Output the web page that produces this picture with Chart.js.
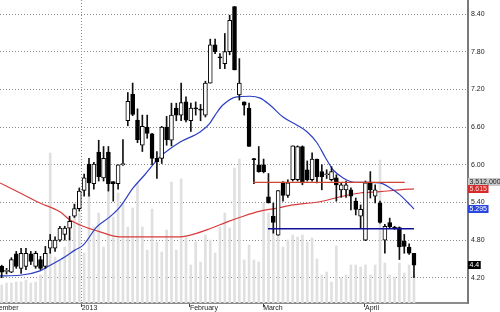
<!DOCTYPE html>
<html>
<head>
<meta charset="utf-8">
<script src="https://cdn.jsdelivr.net/npm/chart.js@4.4.1/dist/chart.umd.min.js"></script>
<style>
  html, body { margin: 0; padding: 0; background: #fff; }
  #chart { display: block; }
</style>
</head>
<body>
<canvas id="chart" width="500" height="312"></canvas>
<script>
/* ─── Data (one entry per trading day) ───────────────────────────────────── */
const opens = [
  4.38,4.30,4.29,4.58,4.35,4.38,4.58,4.38,4.49,4.38, 4.67,4.67,4.80,4.89,4.99,5.18,5.30,5.59,6.01,5.70,
  6.20,5.79,6.20,5.73,5.70,6.00,6.70,7.12,6.71,6.31, 6.60,6.49,6.10,6.10,6.60,6.39,6.90,6.79,7.00,6.70,
  6.90,6.88,6.79,7.30,7.91,7.72,7.61,7.80,8.52,7.11, 7.00,6.90,6.09,6.00,6.00,5.49,5.18,4.88,5.71,5.51,
  5.76,5.76,6.29,5.92,5.76,6.09,5.89,5.84,5.76,5.79, 5.60,5.60,5.60,5.42,5.18,4.80,5.71,5.50,5.39,4.80,
  5.08,5.00,5.00,4.78,4.69,4.59,
];
const closes = [
  4.29,4.32,4.49,4.38,4.59,4.59,4.46,4.59,4.35,4.59, 4.80,4.80,4.99,4.99,5.10,5.30,5.58,5.79,5.71,6.01,
  5.81,6.10,5.70,5.70,6.00,6.02,7.01,6.80,6.40,6.61, 6.50,6.10,6.05,6.60,6.40,6.79,6.79,6.99,6.71,6.90,
  6.89,6.87,7.30,7.91,7.80,7.70,7.80,8.30,7.51,7.30, 6.95,6.29,6.08,5.89,5.89,5.39,5.08,5.59,5.51,5.71,
  6.30,6.29,5.71,5.76,6.09,5.81,5.81,5.85,5.89,5.68, 5.68,5.68,5.50,5.29,5.29,5.71,5.60,5.60,5.08,5.02,
  5.01,4.99,4.69,4.70,4.59,4.40,
];
const highs = [
  4.40,4.35,4.52,4.62,4.67,4.67,4.62,4.62,4.54,4.70, 4.89,4.85,5.02,5.02,5.18,5.37,5.63,5.85,6.10,6.04,
  6.39,6.29,6.29,5.73,6.00,6.40,7.15,7.30,6.89,6.79, 6.79,6.50,6.21,6.61,6.77,6.98,6.98,7.30,7.08,6.98,
  7.00,6.96,7.33,8.00,8.00,7.77,8.09,8.38,8.52,7.69, 7.00,6.98,6.10,6.29,6.09,5.86,5.39,5.59,5.73,5.76,
  6.30,6.30,6.30,6.06,6.19,6.09,6.00,5.92,5.97,5.84, 5.71,5.74,5.63,5.47,5.36,5.74,5.89,5.68,5.42,5.05,
  5.15,5.02,5.01,4.89,4.74,4.59,
];
const lows = [
  4.20,4.26,4.28,4.35,4.27,4.33,4.41,4.35,4.33,4.35, 4.59,4.62,4.78,4.80,4.80,5.16,5.26,5.50,5.50,5.61,
  5.74,5.74,5.58,5.42,5.61,5.99,6.62,6.78,6.35,6.21, 6.42,6.00,5.78,6.02,6.31,6.30,6.70,6.70,6.68,6.53,
  6.79,6.70,6.76,7.30,7.77,7.53,7.53,7.75,7.51,7.03, 6.79,6.29,5.70,5.88,5.87,5.39,4.91,4.88,5.42,5.48,
  5.74,5.74,5.68,5.74,5.74,5.71,5.60,5.78,5.74,5.42, 5.48,5.48,5.28,5.20,4.99,4.79,5.47,5.39,5.07,4.59,
  4.99,4.97,4.49,4.59,4.57,4.20,
];
const volumes = [
  540000,600000,600000,630000,630000,690000,600000,630000,840000,1380000,
  4500000,1380000,1290000,1680000,1950000,3000000,2700000,1500000,3300000,2280000,
  2700000,1680000,3630000,2580000,3300000,3000000,2280000,2850000,3600000,2280000,
  1590000,2820000,1830000,1530000,2190000,3630000,1590000,3720000,1980000,1140000,
  1830000,1230000,2040000,1890000,1500000,2280000,2700000,2250000,4050000,4320000,
  1290000,1740000,1290000,1230000,3000000,2700000,2250000,2430000,1680000,1890000,
  2040000,1980000,2040000,1830000,1950000,1320000,840000,930000,630000,1710000,
  750000,840000,1140000,1140000,1080000,1140000,840000,1140000,4290000,1200000,
  840000,780000,1200000,900000,1140000,840000,
];

/* moving averages, sampled along the curves (day index, price) */
const blueMaAt = [-0.35,3.8,7.9,10.0,13.0,15.1,16.8,19.6,22.3,24.4,27.1,29.5,32.6,36.8,40.9,42.9,44.0,45.6,
  48.5,51.2,53.3,55.3,58.0,60.9,63.0,65.0,66.7,68.3,70.4,72.8,75.9,78.0,80.1,82.1,84.2,85.0];
const blueMa = [4.23,4.24,4.31,4.40,4.53,4.64,4.72,5.01,5.17,5.33,5.63,5.84,6.12,6.36,6.52,6.66,6.79,6.95,
  7.08,7.09,7.06,6.95,6.76,6.63,6.52,6.35,6.12,5.92,5.79,5.72,5.72,5.71,5.63,5.52,5.36,5.295];
const redMaAt = [-0.35,3.8,7.9,12.0,14.1,16.8,20.3,24.4,28.5,32.6,36.8,40.3,42.9,46.5,49.8,53.3,56.8,
  60.1,63.6,65.6,69.8,73.9,78.0,82.1,85.0];
const redMa = [5.71,5.55,5.39,5.25,5.12,5.02,4.93,4.85,4.85,4.85,4.85,4.91,4.98,5.09,5.18,5.26,5.31,
  5.36,5.39,5.41,5.49,5.55,5.57,5.60,5.615];

/* horizontal levels: [first day, last day] and price */
const redLevelSpan = [51.8, 83.1];
const redLevel = 5.72;
const blueLevelSpan = [54.9, 85.0];
const blueLevel = 4.98;

const priceTicks = [4.2, 4.8, 5.4, 6.0, 6.6, 7.2, 7.8, 8.4];
const monthLabels = ['December', '2013', 'February', 'March', 'April'];
const monthAt = [-3.2, 16.5, 38.8, 53.9, 74.9];

const tagValues = [5.72, 5.615, 5.295, 4.4];
const tagTexts = ['3,512,000', '5.615', '5.295', '4.4'];

/* ─── Styles ─────────────────────────────────────────────────────────────── */
const FONT = "'Liberation Sans', Arial, sans-serif";
const tagStyles = [
  { bg: '#c8c8c8', fg: '#222' },
  { bg: '#d42a2a', fg: '#ffd6d6' },
  { bg: '#2a46e0', fg: '#ffffff' },
  { bg: '#000000', fg: '#ffffff' },
];

/* ─── Helpers ────────────────────────────────────────────────────────────── */
const days = opens.map((_, i) => i);
const isUp = i => closes[i] >= opens[i];
const pts = (xs, ys) => xs.map((x, k) => ({ x, y: ys[k] }));

const priceTags = {
  id: 'priceTags',
  afterDraw(chart) {
    const { ctx, scales: { y } } = chart;
    ctx.save();
    ctx.font = '7px ' + FONT;
    ctx.textBaseline = 'middle';
    tagValues.forEach((v, k) => {
      const py = Math.round(y.getPixelForValue(v));
      const w = ctx.measureText(tagTexts[k]).width + 3;
      ctx.fillStyle = tagStyles[k].bg;
      ctx.fillRect(y.left, py - 4, w, 8);
      ctx.fillStyle = tagStyles[k].fg;
      ctx.fillText(tagTexts[k], y.left + 1.5, py + 0.5);
    });
    ctx.restore();
  },
};

/* ─── Chart ──────────────────────────────────────────────────────────────── */
new Chart(document.getElementById('chart'), {
  type: 'bar',
  data: {
    datasets: [
      { type: 'line', data: pts(redLevelSpan, [redLevel, redLevel]), borderColor: '#d2452c',
        borderWidth: 1.3, pointRadius: 0, order: 0 },
      { type: 'line', data: pts(blueLevelSpan, [blueLevel, blueLevel]), borderColor: '#10109a',
        borderWidth: 1.3, pointRadius: 0, order: 0 },
      { data: days.map(i => ({ x: i, y: [opens[i], closes[i]] })), grouped: false, barThickness: 4,
        minBarLength: 1, borderSkipped: false, borderWidth: 1, borderColor: '#000',
        backgroundColor: c => isUp(c.dataIndex) ? '#fff' : '#000', order: 1 },
      { data: days.map(i => ({ x: i, y: [lows[i], highs[i]] })), grouped: false, barThickness: 1,
        backgroundColor: '#111', order: 2 },
      { type: 'line', data: pts(blueMaAt, blueMa), borderColor: '#2c3ec4', borderWidth: 1.2,
        pointRadius: 0, cubicInterpolationMode: 'monotone', order: 3 },
      { type: 'line', data: pts(redMaAt, redMa), borderColor: '#d83c3c', borderWidth: 1.2,
        pointRadius: 0, cubicInterpolationMode: 'monotone', order: 3 },
      { data: days.map(i => ({ x: i, y: volumes[i] })), yAxisID: 'yVol', grouped: false,
        barThickness: 2, backgroundColor: '#e0e0e0', order: 4 },
    ],
  },
  options: {
    responsive: false, animation: false, devicePixelRatio: 1,
    layout: { padding: 0 },
    plugins: { legend: { display: false }, tooltip: { enabled: false } },
    scales: {
      x: {
        type: 'linear', min: -0.35, max: 96.14, offset: false,
        afterBuildTicks: s => { s.ticks = monthAt.map(value => ({ value })); },
        afterFit: s => { s.height = 9; s.paddingLeft = 0; s.paddingRight = 0; },
        grid: {
          offset: false, lineWidth: 1, tickLength: 4, tickWidth: 1,
          color: c => c.index === 1 ? '#8a8a8a' : 'rgba(0,0,0,0)',
          tickColor: c => c.index === 0 ? 'rgba(0,0,0,0)' : '#444',
        },
        border: { color: '#8c8c8c', width: 2, dash: [1, 2] },
        ticks: {
          align: 'start', padding: -3, autoSkip: false, maxRotation: 0, color: '#222',
          font: { family: FONT, size: 7 }, callback: (v, k) => monthLabels[k],
        },
      },
      y: {
        position: 'right', min: 3.798, max: 8.623, beginAtZero: false,
        afterBuildTicks: s => { s.ticks = priceTicks.map(value => ({ value })); },
        afterFit: s => { s.width = 32; s.paddingTop = 0; s.paddingBottom = 0; },
        grid: { color: '#8a8a8a', lineWidth: 1, drawTicks: false },
        border: { color: '#7a7a7a', width: 2, dash: [1, 2] },
        ticks: { padding: 3, color: '#222', font: { family: FONT, size: 7 }, callback: v => v.toFixed(2) },
      },
      yVol: { display: false, min: 0, max: 9090000 },
    },
  },
  plugins: [priceTags],
});
</script>
</body>
</html>
